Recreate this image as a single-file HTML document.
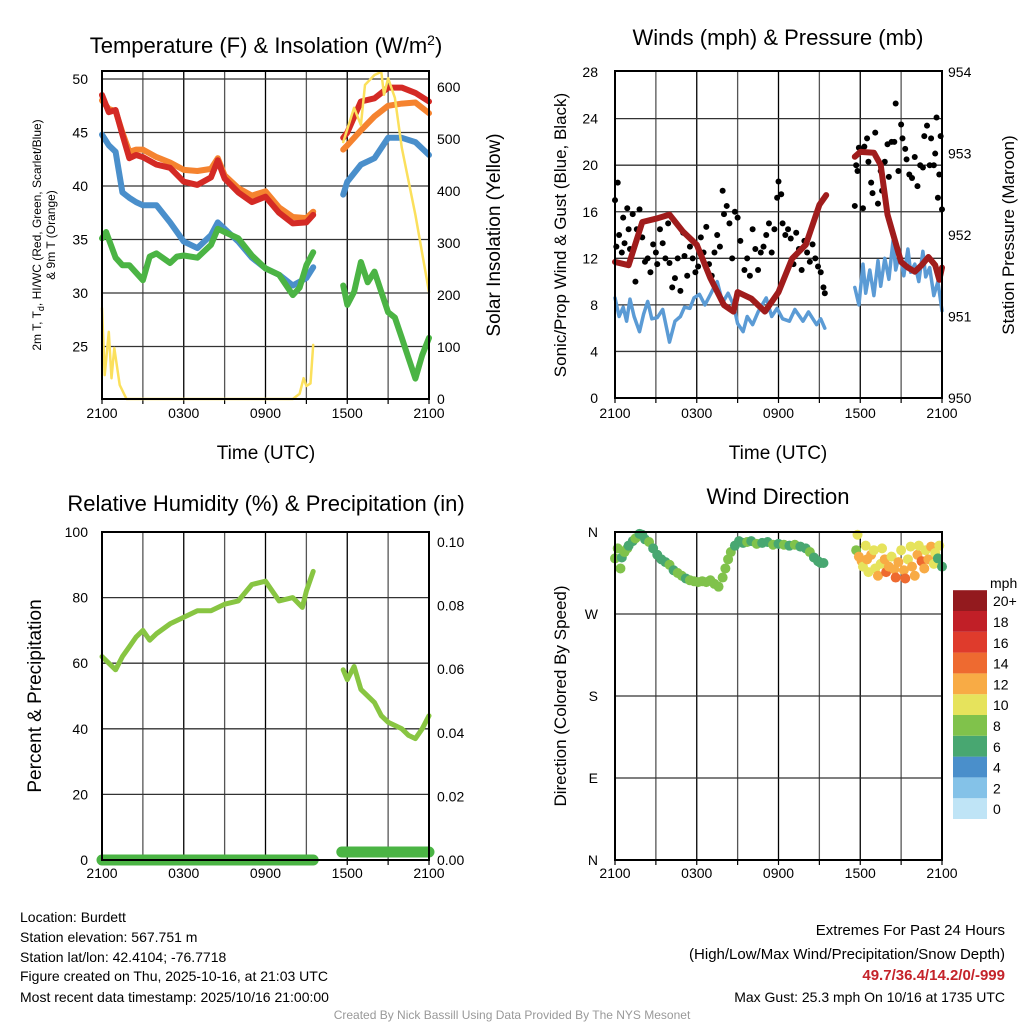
<!DOCTYPE html>
<html><head><meta charset="utf-8"><style>
html,body{margin:0;padding:0;background:#fff;}
svg{display:block;font-family:"Liberation Sans",Arial,sans-serif;}
</style></head><body>
<svg id="fig" width="1024" height="1024" viewBox="0 0 1024 1024" xmlns="http://www.w3.org/2000/svg">
<rect width="1024" height="1024" fill="#fff"/>
<g id="layer"></g>
<g font-size="22" text-anchor="middle" fill="#000">
<text x="266" y="53">Temperature (F) &amp; Insolation (W/m<tspan dy="-8" font-size="14">2</tspan><tspan dy="8">)</tspan></text>
<text x="778" y="45">Winds (mph) &amp; Pressure (mb)</text>
<text x="266" y="511">Relative Humidity (%) &amp; Precipitation (in)</text>
<text x="778" y="504">Wind Direction</text>
</g>
<g font-size="19" text-anchor="middle">
<text x="266" y="459">Time (UTC)</text>
<text x="778" y="459">Time (UTC)</text>
<text transform="translate(500,235) rotate(-90)">Solar Insolation (Yellow)</text>
<text transform="translate(41,696) rotate(-90)">Percent &amp; Precipitation</text>
</g>
<g font-size="12" text-anchor="middle">
<text transform="translate(41,235) rotate(-90)">2m T, T<tspan dy="3" font-size="9">d</tspan><tspan dy="-3">, HI/WC (Red, Green, Scarlet/Blue)</tspan></text>
<text transform="translate(55,235) rotate(-90)">&amp; 9m T (Orange)</text>
</g>
<g font-size="17" text-anchor="middle">
<text transform="translate(566,235) rotate(-90)">Sonic/Prop Wind &amp; Gust (Blue, Black)</text>
<text transform="translate(1014,235) rotate(-90)">Station Pressure (Maroon)</text>
<text transform="translate(566,696) rotate(-90)">Direction (Colored By Speed)</text>
</g>
<g font-size="14" fill="#000">
<text x="20" y="922">Location: Burdett</text>
<text x="20" y="942">Station elevation: 567.751 m</text>
<text x="20" y="962">Station lat/lon: 42.4104; -76.7718</text>
<text x="20" y="981">Figure created on Thu, 2025-10-16, at 21:03 UTC</text>
<text x="20" y="1002">Most recent data timestamp: 2025/10/16 21:00:00</text>
</g>
<g font-size="15" text-anchor="end" fill="#000">
<text x="1005" y="935">Extremes For Past 24 Hours</text>
<text x="1005" y="959">(High/Low/Max Wind/Precipitation/Snow Depth)</text>
<text x="1005" y="980" fill="#c4232a" font-weight="bold">49.7/36.4/14.2/0/-999</text>
<text x="1005" y="1002" font-size="14">Max Gust: 25.3 mph On 10/16 at 1735 UTC</text>
</g>
<text x="512" y="1019" font-size="12" fill="#999" text-anchor="middle">Created By Nick Bassill Using Data Provided By The NYS Mesonet</text>
</svg>
<script>
// ---------- data ----------
const xTickHours=[0,6,12,18,24];
const xTickLabels=["2100","0300","0900","1500","2100"];
const tempTicks=[25,30,35,40,45,50];
const solarTicks=[0,100,200,300,400,500,600];
const windTicks=[0,4,8,12,16,20,24,28];
const presTicks=[950,951,952,953,954];
const rhTicks=[0,20,40,60,80,100];
const precTicks=[0,0.02,0.04,0.06,0.08,0.10];
const dirTicks=[0,90,180,270,360];
const dirLabels=["N","E","S","W","N"];
const speedBins=[0,2,4,6,8,10,12,14,16,18,20];
const speedLabels=["0","2","4","6","8","10","12","14","16","18","20+"];
const speedColors=["#bfe4f6","#84c2e8","#4a8fcb","#48a771","#80c24b","#e6e35c","#f8ab45","#ee6a30","#df3b2c","#c11f27","#931a1e"];

const tT=[0,0.5,1,1.5,2,2.5,3,4,5,6,7,8,8.5,9,10,11,12,13,14,15,15.5,null,17.7,18,19,20,21,22,23,24];
const tempRed=[48.5,46.9,47.1,44.8,42.6,42.9,42.7,42,41.7,40.4,40.1,40.8,42.4,40.7,39.4,38.5,39,37.5,36.5,36.6,37.3,null,44.5,45,47.9,48.2,49.2,49.2,48.7,47.9];
const temp9m=[48,47.2,47,45,43.2,43.4,43.4,42.7,42.2,41.5,41.4,41.6,42.6,41,39.8,39.1,39.5,38,37.1,37,37.6,null,43.4,43.8,45.2,46.5,47.5,47.7,47.8,46.8];
const tempBlue=[44.8,43.8,43.2,39.4,38.9,38.5,38.2,38.2,36.6,34.8,34.2,35.4,36.6,36,34.8,33.3,32.3,31.7,30.7,31.4,32.4,null,39.2,40.4,42,42.6,44.5,44.5,44.1,42.9];
const tG=[0,0.3,1,1.5,2,3,3.5,4,5,5.5,6,7,8,8.5,9,10,11,12,13,14,14.5,15,15.5,null,17.7,18,18.5,19,19.5,20,20.5,21,21.5,22,22.5,23,23.5,24];
const dewGreen=[35.1,35.7,33.3,32.6,32.6,31.2,33.4,33.7,32.8,33.4,33.5,33.3,34.5,36,35.7,35.1,33.5,32.3,31.7,29.8,30.5,32.6,33.8,null,30.7,28.9,30.1,32.9,31,32,30.1,28.2,27.7,25.8,23.9,22,24.2,25.8];
const tS=[0,0.2,0.5,0.7,0.9,1.3,1.8,14,14.5,14.8,15,15.3,15.5,null,17.7,18.5,19,19.3,20,20.5,20.7,21,21.5,22,23,24];
const solar=[175,46,129,40,98,27,0,0,10,40,25,30,104,null,494,560,527,604,623,629,585,617,579,483,354,206];

const tWind=[0,0.3,0.6,0.85,1.1,1.4,1.8,2.1,2.4,2.7,3.1,3.5,4.0,4.4,4.8,5.1,5.5,5.8,6.2,6.6,7.0,7.3,7.5,7.9,8.3,8.7,9.0,9.4,9.7,10.1,10.5,11.1,11.5,11.9,12.3,12.8,13.2,13.8,14.2,14.8,15.1,15.4,null,17.6,17.9,18.2,18.4,18.7,19.0,19.3,19.5,19.8,20.1,20.4,20.6,20.9,21.2,21.5,21.7,22.0,22.3,22.6,22.8,23.1,23.4,23.7,24.0];
const windSpd=[8.6,7.0,7.8,6.6,8.5,7.0,5.7,7.2,8.3,6.8,6.9,7.6,4.8,6.6,7.0,7.8,7.7,8.6,8.9,8.0,8.9,9.6,10.0,8.2,9.0,8.0,6.4,5.7,7.0,6.3,7.4,8.6,7.0,7.7,6.8,6.6,7.6,6.6,7.4,6.3,6.8,6.0,null,9.5,8.0,11.5,9.0,11.0,8.8,11.8,9.6,12.0,10.2,13.5,11.0,12.5,10.5,12.8,10.8,11.5,10.0,12.6,10.4,11.2,8.8,10.0,7.5];
const tGust=[0,0.1,0.2,0.3,0.5,0.6,0.7,0.9,1.0,1.1,1.3,1.5,1.6,1.8,2.0,2.2,2.4,2.6,2.8,3.0,3.1,3.3,3.5,3.7,3.9,4.0,4.2,4.4,4.6,4.8,5.0,5.1,5.3,5.5,5.7,5.9,6.1,6.3,6.5,6.7,6.9,7.1,7.3,7.5,7.7,7.9,8.0,8.2,8.4,8.6,8.8,9.0,9.2,9.5,9.7,9.9,10.1,10.3,10.5,10.7,10.9,11.1,11.3,11.5,11.7,11.9,12.0,12.2,12.3,12.5,12.7,12.9,13.1,13.3,13.5,13.7,13.9,14.1,14.3,14.5,14.7,14.9,15.1,15.3,15.4,17.6,17.7,17.8,17.9,18.1,18.2,18.3,18.5,18.6,18.8,18.9,19.1,19.3,19.5,19.6,19.8,20.0,20.1,20.3,20.5,20.6,20.8,21.0,21.1,21.3,21.4,21.6,21.8,22.0,22.2,22.4,22.6,22.7,22.9,23.1,23.2,23.4,23.5,23.6,23.7,23.8,23.9,24.0];
const gust=[17,13,18.5,14,12.5,15.5,13.3,16.3,14.5,12.8,15.8,10,14.5,16.2,13.8,11.7,12,10.8,13.2,12.5,11.5,14.5,13.3,12,15,11.6,9.5,10.3,12,9.2,14.2,12.2,10.5,13,12,10.8,11.3,13.8,12.5,14.7,11.5,10.5,12.5,14,13,17.8,15.8,16.5,15,12,16,15.5,13.5,11,12,10.5,14.5,12.8,11,12.5,13,14,15,12.5,14.5,17.2,18.6,17.5,15,14,14.5,13.7,11.5,14.2,12.8,11,13.5,12.5,11.7,13.2,12,11.3,10.8,9.5,9.0,16.5,20,19.5,21.5,21.2,16.3,21.6,22.3,20.3,18.5,17.6,22.8,16.7,19.5,17.8,20.3,21.8,19,22,22,25.3,19.5,23.5,22.3,21.4,20.5,19.2,18.9,20.7,18.2,20,19.8,22.5,23.4,20,22.3,20,21,24.1,17.2,19.2,22.5,16.2];
const tPres=[0,1,2,3,4,5,6,7,8,8.7,9,10,11,12,13,14,15,15.5,null,17.6,18,19,19.5,20,20.5,21,21.5,22,22.5,23,23.5,23.8,24];
const pressure=[951.67,951.63,952.16,952.2,952.25,952.04,951.88,951.47,951.14,951.06,951.3,951.22,951.06,951.3,951.71,951.88,952.37,952.49,null,952.96,953.02,953.01,952.86,952.25,951.96,951.67,951.6,951.55,951.63,951.73,951.63,951.45,951.6];

const tRH=[0,0.5,1,1.5,2,2.5,3,3.5,4,5,6,7,8,9,10,11,12,13,14,14.7,15,15.5,null,17.7,18,18.5,19,20,20.5,21,22,22.5,23,23.5,24];
const rh=[62,60,58,62,65,68,70,67,69,72,74,76,76,78,79,84,85,79,80,77,82,88,null,58,55,59,52,48,44,42,40,38,37,40,44];
const tPrec=[0,2,4,6,8,10,12,14,15.5,null,17.6,19,21,23,24];
const precip=[0,0,0,0,0,0,0,0,0,null,0.0025,0.0025,0.0025,0.0025,0.0025];

const tDir=[0,0.2,0.4,0.5,0.7,0.9,1.0,1.3,1.5,1.8,2.0,2.2,2.5,2.8,3.1,3.4,3.7,4.0,4.3,4.6,4.9,5.2,5.5,5.8,6.1,6.4,6.7,7.0,7.3,7.6,7.9,8.1,8.3,8.5,8.8,9.1,9.4,9.7,10.0,10.4,10.8,11.2,11.6,12.0,12.4,12.8,13.2,13.6,14.0,14.3,14.6,14.9,15.1,15.3,17.7,17.8,17.9,18.1,18.2,18.4,18.5,18.6,18.8,19.0,19.1,19.3,19.5,19.6,19.8,19.9,20.1,20.3,20.5,20.6,20.8,21.0,21.2,21.3,21.5,21.7,21.8,22.0,22.2,22.3,22.5,22.7,22.8,23.0,23.2,23.4,23.5,23.7,23.8,24.0];
const dirDeg=[331,342,320,332,338,342,345,350,353,358,357,352,349,342,335,330,327,324,318,315,312,309,307,306,305,306,305,307,303,300,310,320,330,338,345,350,348,349,350,347,348,349,346,347,346,345,346,344,342,338,332,328,326,326,340,357,333,328,322,345,330,316,335,340,320,312,325,342,330,316,322,333,319,310,327,340,318,309,330,344,322,312,335,345,328,320,340,330,344,325,337,331,345,322];
const dirSpd=[8,8,8,6,8,8,7,6,8,7,6,6,8,6,6,7,6,8,6,8,8,6,8,8,8,9,8,8,9,8,9,8,8,8,6,7,6,8,6,8,7,6,8,6,8,6,8,6,6,8,6,6,6,6,8,10,12,12,10,10,13,10,12,10,11,13,11,10,12,14,12,10,13,15,12,10,13,14,11,10,12,13,13,10,15,12,10,12,12,10,10,6,10,6];

// ---------- scales ----------
const xA=t=>102+t*13.625;
const xB=t=>615+t*13.625;
const yTemp=v=>79+(50-v)*10.7;
const ySolar=v=>399-v*0.52;
const yWind=v=>398-v*11.64;
const yPres=p=>398-(p-950)*81.5;
const yRH=v=>860-v*3.28;
const yPrec=v=>860-v*3180;
const yDir=d=>860-d*328/360;

const NS="http://www.w3.org/2000/svg";
const layer=document.getElementById('layer');
function mk(tag,attrs,parent){const e=document.createElementNS(NS,tag);for(const k in attrs)e.setAttribute(k,attrs[k]);(parent||layer).appendChild(e);return e;}
function pathD(ts,vs,fx,fy){let d="",pen=false;for(let i=0;i<ts.length;i++){if(ts[i]===null||vs[i]===null){pen=false;continue;}d+=(pen?"L":"M")+fx(ts[i]).toFixed(1)+","+fy(vs[i]).toFixed(1);pen=true;}return d;}
function colorFor(s){let i=Math.min(speedBins.length-1,Math.max(0,Math.floor(s/2)));return speedColors[i];}

function frame(x0,y0,w,h,name){
  const g=mk('g',{});
  
  
  for(let i=1;i<8;i++){const x=x0+i*w/8;const l=mk('line',{x1:x,y1:y0,x2:x,y2:y0+h,stroke:(i%2==0?'#000':'#555'),'stroke-width':1.3},g);
    }
  for(let i=0;i<=8;i++){const x=x0+i*w/8;mk('line',{x1:x,y1:y0+h,x2:x,y2:y0+h+5,stroke:'#000','stroke-width':1.2},g);}
  return g;
}
function hgrid(vals,fy,x0,w,g){vals.forEach(v=>{const y=fy(v);const l=mk('line',{x1:x0,y1:y,x2:x0+w,y2:y,stroke:'#333','stroke-width':1.3},g);
  });}
function box(x0,y0,w,h,name){const r=mk('rect',{x:x0,y:y0,width:w,height:h,fill:'none',stroke:'#000','stroke-width':2});
  }
function xlabels(fx,y){xTickHours.forEach((t,i)=>{const e=mk('text',{x:fx(t),y:y,'font-size':14,'text-anchor':'middle'});e.textContent=xTickLabels[i];
  });}
function ylabels(vals,labs,fy,x,anchor,fmt){vals.forEach((v,i)=>{const e=mk('text',{x:x,y:fy(v)+5,'font-size':14,'text-anchor':anchor});e.textContent=labs?labs[i]:fmt(v);
  });}
function line(ts,vs,fx,fy,col,w,name){const p=mk('path',{d:pathD(ts,vs,fx,fy),fill:'none',stroke:col,'stroke-width':w,'stroke-linejoin':'round','stroke-linecap':'round'});
  return p;}

// Panel 1
let g1=frame(102,71,327,328,'temperature-plot-grid');
hgrid(tempTicks,yTemp,102,327,g1);
ylabels(tempTicks,null,yTemp,88,'end',v=>v);
ylabels(solarTicks,null,ySolar,437,'start',v=>v);
xlabels(xA,418);
line(tT,temp9m,xA,yTemp,'#f5832f',6,'temp-9m-line');
line(tT,tempRed,xA,yTemp,'#d42a25',6,'temp-2m-line');
line(tT,tempBlue,xA,yTemp,'#4a8fcb',6,'heat-index-line');
line(tG,dewGreen,xA,yTemp,'#4bb444',6,'dewpoint-line');
line(tS,solar,xA,ySolar,'#fbe05c',2.5,'solar-insolation-line');
box(102,71,327,328,'temperature-plot-frame');

// Panel 2
let g2=frame(615,71,327,327,'winds-plot-grid');
hgrid(windTicks.slice(1,7),yWind,615,327,g2);
ylabels(windTicks,null,yWind,598,'end',v=>v);
ylabels(presTicks,null,yPres,948,'start',v=>v);
xlabels(xB,418);
line(tWind,windSpd,xB,yWind,'#5b9bd5',3.5,'wind-speed-line');
tGust.forEach((t,i)=>{const c=mk('circle',{cx:xB(t),cy:yWind(gust[i]),r:3,fill:'#000'});
  
  });
line(tPres,pressure,xB,yPres,'#a01c1c',6,'pressure-line');
box(615,71,327,327,'winds-plot-frame');

// Panel 3
let g3=frame(102,532,327,328,'humidity-plot-grid');
hgrid(rhTicks.slice(1,5),yRH,102,327,g3);
ylabels(rhTicks,null,yRH,88,'end',v=>v);
ylabels(precTicks,null,yPrec,437,'start',v=>v.toFixed(2));
xlabels(xA,878);
line(tRH,rh,xA,yRH,'#88c542',5,'humidity-line');
line(tPrec,precip,xA,yPrec,'#4bb444',11,'precipitation-line');
box(102,532,327,328,'humidity-plot-frame');

// Panel 4
let g4=frame(615,532,327,328,'direction-plot-grid');
hgrid([90,180,270],yDir,615,327,g4);
ylabels(dirTicks,dirLabels,yDir,598,'end');
xlabels(xB,878);
tDir.forEach((t,i)=>{const c=mk('circle',{cx:xB(t),cy:yDir(dirDeg[i]),r:5,fill:colorFor(dirSpd[i])});
  
  });
box(615,532,327,328,'direction-plot-frame');

// Colorbar
const cb=mk('g',{});


const mphT=mk('text',{x:990,y:588,'font-size':14},cb);mphT.textContent='mph';


speedColors.forEach((c,i)=>{const y=819-(i+1)*20.8;
  const r=mk('rect',{x:953,y:y,width:34,height:20.8,fill:c},cb);
  
  
  const tx=mk('text',{x:993,y:y+16,'font-size':14},cb);tx.textContent=speedLabels[i];
  
  });
</script>
</body></html>
